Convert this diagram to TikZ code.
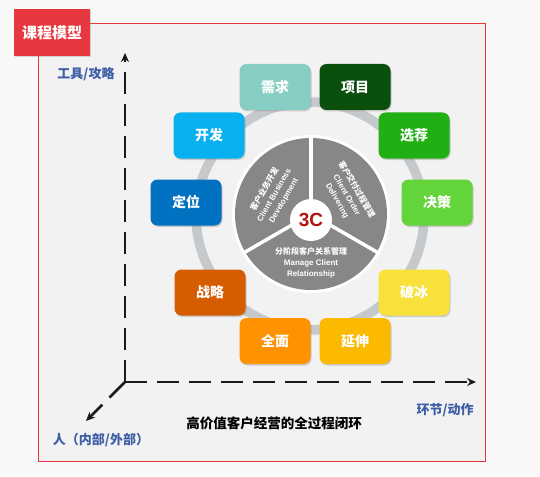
\documentclass[tikz,border=0pt]{standalone}
\usepackage{fontspec}
\setmainfont{Noto Sans CJK SC}
\newfontfamily\latin{Liberation Sans}
\usetikzlibrary{arrows.meta,shadows}
\definecolor{framered}{HTML}{E8383F}
\definecolor{paper}{HTML}{F2F2F2}
\definecolor{outside}{HTML}{F8F8F8}
\definecolor{axisblack}{HTML}{1A1A1A}
\definecolor{labelblue}{HTML}{3E5EA6}
\definecolor{ringgray}{HTML}{C6C9CC}
\definecolor{piegray}{HTML}{878787}
\definecolor{threec}{HTML}{B3120F}
\definecolor{cXuqiu}{HTML}{86CEC4}
\definecolor{cXiangmu}{HTML}{0A4F0B}
\definecolor{cKaifa}{HTML}{07B0EF}
\definecolor{cXuanjian}{HTML}{20B014}
\definecolor{cDingwei}{HTML}{0072C1}
\definecolor{cJuece}{HTML}{63D43A}
\definecolor{cZhanlue}{HTML}{D55D00}
\definecolor{cPobing}{HTML}{F7E13A}
\definecolor{cQuanmian}{HTML}{FF9200}
\definecolor{cYanshen}{HTML}{FBBA00}
\tikzset{
  tile/.style={rectangle, rounded corners=7pt, minimum width=71pt, minimum height=46pt,
    inner sep=0pt, text=white, font=\fontsize{14}{16}\selectfont\bfseries,
    drop shadow={shadow xshift=1pt, shadow yshift=-1.5pt, opacity=0.35}},
  axis/.style={line width=2.6pt, draw=axisblack, dash pattern=on 22pt off 10pt,
    -{Stealth[length=9pt,width=8pt]}},
  axislabel/.style={text=labelblue, font=\fontsize{13}{15}\selectfont\bfseries},
  segtext/.style={text=white, align=center, inner sep=1pt, font=\fontsize{8}{11}\selectfont\bfseries},
  divider/.style={draw=white, line width=3.5pt}
}
\begin{document}
\begin{tikzpicture}[x=1pt, y=-1pt]
\useasboundingbox (0,0) rectangle (540,476);
\fill[outside] (0,0) rectangle (540,476);
\fill[paper] (38,24) rectangle (485,461);
\draw[framered, line width=1pt] (38,24) rectangle (485,461);
% title
\node[rectangle, fill=framered, minimum width=76pt, minimum height=47pt, text=white,
  font=\fontsize{15}{17}\selectfont\bfseries,
  drop shadow={shadow xshift=1pt, shadow yshift=-1.5pt, opacity=0.3}] (title) at (52,32.5) {课程模型};
% axes
\coordinate (origin) at (125,382);
\coordinate (ytip) at (125,53);
\coordinate (xtip) at (476,382);
\coordinate (ztip) at (86,421);
\draw[axis] (origin) -- (ytip);
\draw[axis] (origin) -- (xtip);
\draw[axis] (origin) -- (ztip);
\node[axislabel] (tools) at (86,74) {工具/攻略};
\node[axislabel] (steps) at (445,410) {环节/动作};
\node[axislabel] (people) at (101,440) {人（内部/外部）};
\node[font=\fontsize{13.5}{15}\selectfont\bfseries] (caption) at (274,423.5) {高价值客户经营的全过程闭环};
% ring
\coordinate (rc) at (310,216);
\draw[ringgray, line width=9.5pt] (rc) circle[radius=114];
% pie
\coordinate (pc) at (311,214);
\fill[white] (pc) circle[radius=79];
\fill[piegray] (pc) circle[radius=76];
\draw[divider] (pc) -- ++(0,-79);
\draw[divider] (pc) -- ++(-68.4,39.5);
\draw[divider] (pc) -- ++(68.4,39.5);
\node[circle, fill=white, minimum size=42pt, inner sep=0pt, text=threec,
  font=\latin\fontsize{19}{21}\selectfont\bfseries] (core) at (311,220) {3C};
\node[segtext, rotate=60] (bizdev) at (274,195) {客户业务开发\\{\latin Client Business}\\{\latin Development}};
\node[segtext, rotate=-60] (delivery) at (347,195) {客户交付过程管理\\{\latin Client Order}\\{\latin Delivering}};
\node[segtext] (relation) at (311,263) {分阶段客户关系管理\\{\latin Manage Client}\\{\latin Relationship}};
% tiles
\node[tile, fill=cXuqiu] (xuqiu) at (275,87) {需求};
\node[tile, fill=cXiangmu] (xiangmu) at (355,87) {项目};
\node[tile, fill=cKaifa] (kaifa) at (209,135.5) {开发};
\node[tile, fill=cXuanjian] (xuanjian) at (414,135.5) {选荐};
\node[tile, fill=cDingwei] (dingwei) at (186,202.5) {定位};
\node[tile, fill=cJuece] (juece) at (437,202.5) {决策};
\node[tile, fill=cZhanlue] (zhanlue) at (210,292.5) {战略};
\node[tile, fill=cPobing] (pobing) at (414,292.5) {破冰};
\node[tile, fill=cQuanmian] (quanmian) at (275,341) {全面};
\node[tile, fill=cYanshen] (yanshen) at (355,341) {延伸};
\end{tikzpicture}
\end{document}
